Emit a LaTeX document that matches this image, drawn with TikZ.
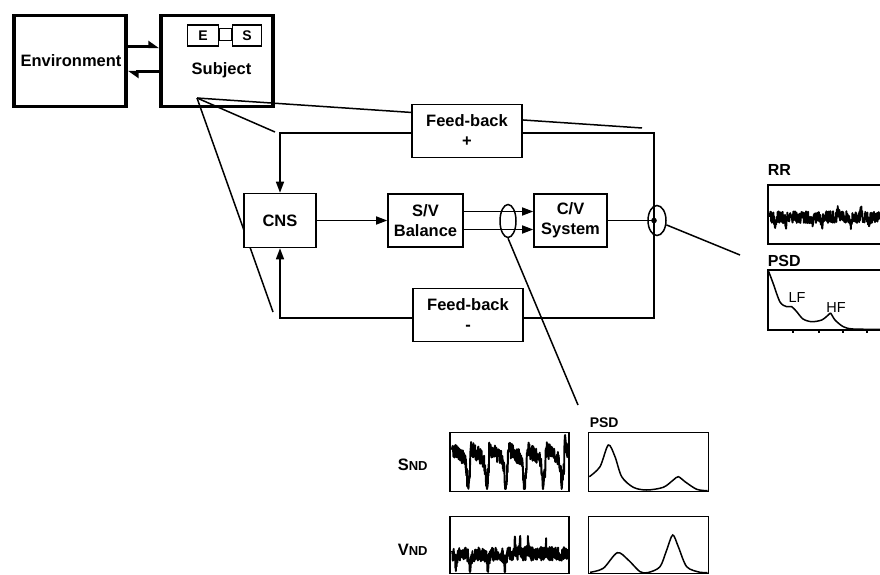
\documentclass[tikz,border=0pt]{standalone}
\usepackage{fontspec}
\setmainfont{Liberation Sans}
\usetikzlibrary{arrows.meta, positioning, shapes.geometric}

\begin{document}
\begin{tikzpicture}[
    x=1pt, y=-1pt,
    line width=1.5pt,
    declare function={spk(\u,\c,\w)=\w*\w/(\w*\w+(\u-\c)^2);},
    box/.style={rectangle, draw, fill=white, line width=1.6pt, minimum width=72pt, minimum height=54pt, align=center, inner sep=0pt, font=\fontsize{16.5}{20}\selectfont\bfseries},
    bigbox/.style={box, line width=3.8pt, minimum width=112pt, minimum height=91pt},
    tinybox/.style={rectangle, draw, line width=1.8pt, minimum height=21pt, inner sep=0pt, font=\fontsize{14}{15}\selectfont\bfseries},
    arr/.style={-{Triangle[length=11pt, width=8pt]}},
    harp/.style={line width=3pt, -{Triangle[harpoon, length=9pt, width=12pt]}},
    ring/.style={ellipse, draw, inner sep=0pt},
    frame/.style={rectangle, draw, line width=1.6pt, inner sep=0pt},
    lbl/.style={font=\fontsize{16}{18}\selectfont\bfseries, inner sep=0pt, anchor=base west},
    trace/.style={line width=1.9pt, line join=round}
]
\useasboundingbox (0,0) rectangle (880,575);

% Environment and subject
\node[bigbox] (env) at (70,61) {\hspace*{2pt}Environment};
\node[bigbox] (subj) at (217,61) {};
\node[tinybox, minimum width=31pt] (e) at (203,35.5) {E};
\node[tinybox, minimum width=29pt] (s) at (247,35.5) {S};
\node[font=\fontsize{16.5}{20}\selectfont\bfseries, anchor=base] (subjlbl) at (221.5,75) {Subject};
\draw[line width=1.6pt] ([yshift=7pt]e.east) rectangle ([yshift=-5pt]s.west);
\draw[harp] ([yshift=14pt]env.east) -- ([yshift=14pt]subj.west);
\draw[harp] ([yshift=-11pt]subj.west) -- ([yshift=-11pt]env.east);

% Zoom lines from the subject
\coordinate (eye) at (197,98);
\coordinate (conetr) at (642,128);
\coordinate (conetl) at (275,132);
\coordinate (conebl) at (273,312);
\draw (eye) -- (conetr);
\draw (eye) -- (conetl);
\draw (eye) -- (conebl);

% Control loop
\node[box, minimum width=110pt, minimum height=53pt] (fbp) at (467,131) {Feed-back\\+};
\node[box, minimum width=110pt, minimum height=53pt] (fbm) at (468,315) {Feed-back\\-};
\node[box] (cns) at (280,220.5) {CNS};
\node[box, minimum width=75pt, minimum height=53pt] (svb) at (425.5,220.5) {S/V\\Balance};
\node[box, minimum width=73pt, minimum height=53pt] (cvs) at (570.5,220.5) {C/V\\System};

\coordinate (tl) at (280,133);
\coordinate (tr) at (654,133);
\coordinate (br) at (654,318);
\coordinate (bl) at (280,318);
\coordinate (jn) at (654,220.5);

\draw[arr] (fbp.west |- tl) -- (tl) -- (cns.north);
\draw (fbp.east |- tr) -- (tr) -- (br) -- (fbm.east |- br);
\draw[arr] (fbm.west |- bl) -- (bl) -- (cns.south);
\draw[arr] (cns) -- (svb);
\draw[arr] ([yshift=9pt]svb.east) -- ([yshift=9pt]cvs.west);
\draw[arr] ([yshift=-9pt]svb.east) -- ([yshift=-9pt]cvs.west);
\draw (cvs.east) -- (jn);
\fill (jn) circle (2.8);

\node[ring, minimum width=16pt, minimum height=33pt] (ring1) at (508,221) {};
\node[ring, minimum width=18pt, minimum height=30pt] (ring2) at (657,220.5) {};
\coordinate (sndtip) at (578,405);
\coordinate (rrtip) at (740,255);
\draw (ring1.south) -- (sndtip);
\draw (ring2.-25) -- (rrtip);

% RR panel
\node[lbl] (rrlbl) at (767,175) {RR};
\draw[line width=1.6pt] (882,185) -| (768,244) -- (882,244);
\pgfmathsetseed{5}
\draw[trace] plot[domain=770:880, samples=420]
  (\x, {217 + 6*rand + 9*spk(\x,775,0.6) + 8*spk(\x,786,0.6) + 9*spk(\x,813,0.6) + 8*spk(\x,822,0.6) + 9*spk(\x,851,0.6) + 8*spk(\x,869,0.6) - 7*spk(\x,838,0.6) - 7*spk(\x,861,0.6)});

\node[lbl] (psdlbl) at (767,266) {PSD};
\draw[line width=1.6pt] (882,270) -- (768,270) -- (768,330) -- (882,330);
\foreach \t in {793,819,843,867}
  \draw (\t,330) -- (\t,332.5);
\draw plot[smooth, tension=0.5] coordinates {(768.3,270.5) (773,283) (780,302) (786.7,306.7) (791.7,306.7) (796.7,311.7) (803,319) (811.7,321.7) (821.7,320) (828.3,315) (830.7,313.3) (835,320) (843.3,326.7) (853,329) (880,329.3)};
\node[font=\fontsize{14.5}{16}\selectfont] (lf) at (797,298) {LF};
\node[font=\fontsize{14.5}{16}\selectfont] (hf) at (836,308) {HF};

% Nerve activity panels
\node[lbl, font=\fontsize{14}{15}\selectfont\bfseries] (psdlbl2) at (589,427) {PSD};
\node[lbl] (sndlbl) at (397,470) {{\fontsize{16.5}{18}\selectfont S}{\fontsize{13}{15}\selectfont ND}};
\node[lbl] (vndlbl) at (397,555) {{\fontsize{16.5}{18}\selectfont V}{\fontsize{13}{15}\selectfont ND}};

\node[frame, minimum width=119pt, minimum height=59pt] (sndsig) at (509.7,462) {};
\node[frame, minimum width=120pt, minimum height=59pt] (sndpsd) at (648.4,462) {};
\node[frame, minimum width=119pt, minimum height=57pt] (vndsig) at (509.7,545) {};
\node[frame, minimum width=120pt, minimum height=57pt] (vndpsd) at (648.4,545) {};

\pgfmathsetseed{11}
\draw[trace] plot[domain=452:567.5, samples=480]
  (\x, {min(489, max(435, 449 + 0.6*mod(\x-451.5,18.8) + 8*rand + 30*spk(mod(\x-451.5,18.8),16.5,1.3) - 18*spk(\x,565,0.5)))});
\pgfmathsetseed{23}
\draw[trace] plot[domain=452:567.5, samples=480]
  (\x, {min(572, max(532, 554 + 7*rand + 18*spk(\x,456,0.7) + 18*spk(\x,470,0.7) + 17*spk(\x,488,0.7) + 16*spk(\x,505,0.7) - 14*spk(\x,515,0.5) - 14*spk(\x,520,0.5) - 12*spk(\x,528,0.5) - 10*spk(\x,546,0.5)))});

\draw plot[smooth, tension=0.5] coordinates {(589.3,476.7) (600,466.7) (608.3,445) (615,456.7) (621.7,476.7) (633.3,487.3) (646.7,490) (663.3,487.3) (673.3,480) (678.3,476.7) (685,481.7) (696.7,489.3) (707.5,490.7)};
\draw plot[smooth, tension=0.5] coordinates {(590,572.3) (603.3,568.3) (617.3,552.7) (628.3,560) (640,571.7) (648.3,572.5) (660,566.7) (666.7,550) (672.7,535) (678.3,546.7) (686.7,566.7) (700,572.3) (707.5,572.5)};
\end{tikzpicture}
\end{document}
